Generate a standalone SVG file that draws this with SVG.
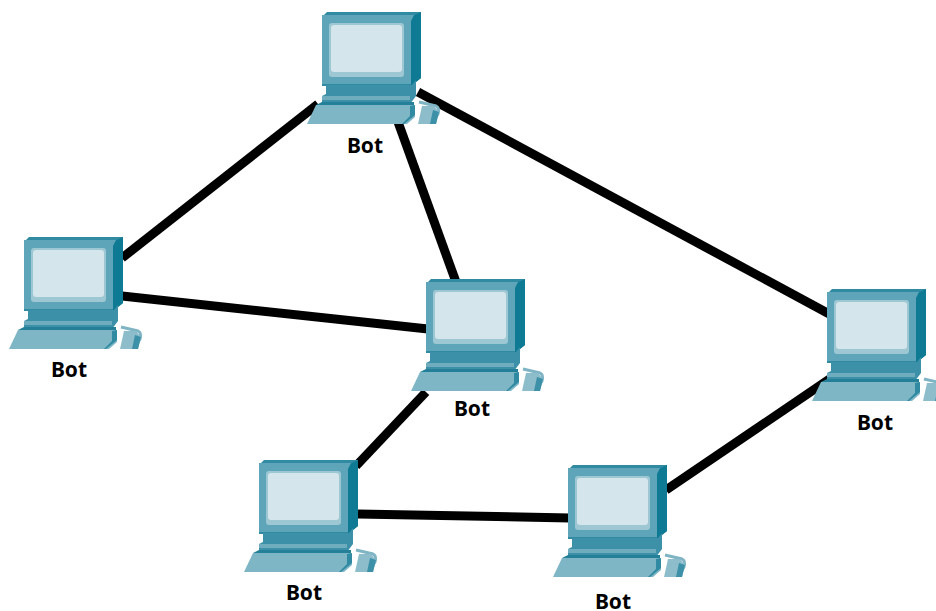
<svg xmlns="http://www.w3.org/2000/svg" xmlns:xlink="http://www.w3.org/1999/xlink" width="936" height="611" viewBox="0 0 936 611">
<style>
.link{stroke:#000;stroke-width:9;fill:none}
.lbl{font-family:"Noto Sans","Open Sans",sans-serif;font-weight:700;font-size:21px;fill:#000;text-anchor:middle}
</style>
<defs>
<g id="pc">
<path d="M-15 93h60v12h-60z" fill="none"/>
<path d="M97 90 L114 94 Q118 96 116 102 L112 108" fill="none" stroke="#7fb4c4" stroke-width="3"/>
<path d="M0 5 L5 0 H99 V66 L89 74 H0Z" fill="#2f8aa2"/>
<path d="M89 5 L99 0 V66 L89 74Z" fill="#0f7a94"/>
<path d="M0 3 H92 L89 9 H0Z" fill="#5ea5b9"/>
<path d="M0 9 H89 V72 H0Z" fill="#5ea5b9"/>
<rect x="7" y="11" width="75" height="54" rx="3" fill="#9dc7d3"/>
<rect x="9" y="13" width="71" height="47" rx="3" fill="#d5e5ec"/>
<path d="M4 73 H90 L94 68 V84 L88 92 H0 V84 L4 82Z" fill="#3c90a8"/>
<path d="M0 84 H88 V88 H0Z" fill="#6eacbe"/>
<path d="M0 90 H92 V93 H-6 L0 90Z" fill="#247f99"/>
<path d="M-6 93 H92 L93 105 L85 112 H-15Z" fill="#7fb6c6"/>
<path d="M82 112 L93 103 V93 L88 94 V104 L80 112Z" fill="#2f8aa2"/>
<path d="M100 94 H112 L117 100 L114 112 H96Z" fill="#8dbdcb"/>
<path d="M111 98 L117 100 L114 112 H108Z" fill="#3c90a8"/>
</g>
</defs>
<rect width="936" height="611" fill="#fff"/>
<g id="connectors">
<line class="link" x1="318" y1="104" x2="122" y2="258"/>
<line class="link" x1="398" y1="122" x2="456" y2="282"/>
<line class="link" x1="418" y1="92" x2="833" y2="316"/>
<line class="link" x1="122" y1="296" x2="428" y2="329"/>
<line class="link" x1="426" y1="392" x2="356" y2="466"/>
<line class="link" x1="358" y1="514" x2="570" y2="518"/>
<line class="link" x1="666" y1="490" x2="834" y2="376"/>
</g>
<g id="node-top"><use xlink:href="#pc" href="#pc" x="322" y="12"/><text class="lbl" x="365" y="153">Bot</text></g>
<g id="node-left"><use xlink:href="#pc" href="#pc" x="24" y="237"/><text class="lbl" x="69" y="377">Bot</text></g>
<g id="node-center"><use xlink:href="#pc" href="#pc" x="426" y="279"/><text class="lbl" x="472" y="416">Bot</text></g>
<g id="node-right"><use xlink:href="#pc" href="#pc" x="827" y="289"/><text class="lbl" x="875" y="430">Bot</text></g>
<g id="node-bottom-left"><use xlink:href="#pc" href="#pc" x="259" y="460"/><text class="lbl" x="304" y="600">Bot</text></g>
<g id="node-bottom"><use xlink:href="#pc" href="#pc" x="568" y="465"/><text class="lbl" x="613" y="609">Bot</text></g>
</svg>
